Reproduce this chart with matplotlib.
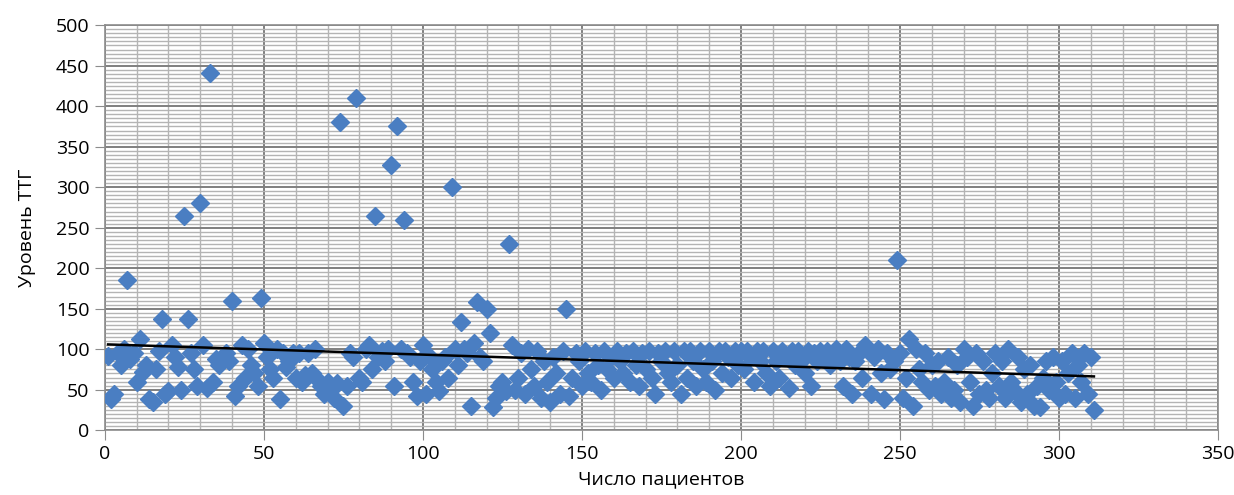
import matplotlib
matplotlib.use('Agg')
import matplotlib.pyplot as plt
from matplotlib.ticker import MultipleLocator
import numpy as np

plt.rcParams['font.family'] = ['Open Sans', 'DejaVu Sans']

# TSH level per patient (patients numbered 1..311)
tsh = [
    92, 38, 45, 95, 80, 100, 185, 88, 95, 60,
    112, 72, 80, 38, 35, 75, 98, 137, 45, 48,
    105, 90, 78, 50, 265, 137, 95, 75, 55, 280,
    105, 52, 441, 60, 88, 80, 90, 95, 85, 160,
    42, 55, 105, 65, 100, 80, 70, 55, 163, 108,
    90, 75, 65, 100, 38, 95, 78, 85, 95, 65,
    95, 60, 68, 95, 70, 100, 62, 55, 45, 60,
    50, 40, 58, 380, 30, 55, 95, 90, 410, 65,
    60, 100, 105, 75, 265, 90, 98, 85, 100, 328,
    55, 375, 100, 260, 95, 90, 60, 42, 85, 105,
    45, 92, 75, 60, 48, 85, 90, 65, 300, 100,
    80, 133, 100, 95, 30, 108, 158, 90, 85, 150,
    120, 28, 40, 55, 60, 48, 230, 105, 50, 65,
    95, 45, 100, 75, 55, 98, 40, 85, 60, 35,
    90, 70, 45, 98, 150, 42, 65, 95, 85, 55,
    98, 70, 60, 95, 80, 50, 98, 75, 90, 65,
    98, 85, 70, 95, 60, 98, 80, 55, 95, 75,
    98, 65, 45, 95, 85, 98, 70, 60, 98, 80,
    45, 98, 65, 98, 85, 55, 98, 75, 60, 98,
    85, 50, 98, 70, 98, 90, 65, 98, 80, 98,
    75, 98, 90, 60, 98, 85, 98, 70, 55, 98,
    85, 65, 98, 90, 52, 98, 80, 98, 85, 70,
    98, 55, 95, 85, 98, 90, 98, 80, 95, 100,
    85, 55, 100, 90, 45, 85, 95, 65, 105, 100,
    45, 90, 100, 70, 38, 95, 75, 85, 210, 95,
    40, 65, 112, 30, 100, 75, 60, 95, 50, 80,
    55, 85, 45, 60, 90, 40, 50, 80, 35, 100,
    90, 60, 30, 95, 45, 85, 50, 40, 70, 95,
    55, 85, 40, 100, 60, 50, 90, 35, 75, 45,
    80, 30, 55, 28, 65, 85, 50, 90, 60, 40,
    85, 45, 70, 95, 40, 80, 60, 95, 45, 90, 25,
]
patients = np.arange(1, len(tsh) + 1)

fig = plt.figure(figsize=(12.34, 4.95), dpi=100)
ax = fig.add_axes([0.085, 0.131, 0.902, 0.818])

ax.plot(patients, tsh, linestyle='none', marker='D', markersize=9,
        color='#4a7ec2', markeredgecolor='#4a7ec2', zorder=3)

# linear trend line
k, b = np.polyfit(patients, tsh, 1)
ax.plot(patients, k * patients + b, color='black', lw=1.8, zorder=4)

ax.set_xlim(0, 350)
ax.set_ylim(0, 500)
ax.xaxis.set_major_locator(MultipleLocator(50))
ax.xaxis.set_minor_locator(MultipleLocator(10))
ax.yaxis.set_major_locator(MultipleLocator(50))
ax.yaxis.set_minor_locator(MultipleLocator(5))

ax.grid(which='major', color='#7f7f7f', lw=1.4, zorder=1)
ax.grid(which='minor', color='#b4b4b4', lw=1.0, zorder=0)
ax.set_axisbelow(True)

for s in ax.spines.values():
    s.set_color('#8c8c8c')
    s.set_linewidth(1.2)

ax.tick_params(which='major', length=7, color='#8c8c8c', labelsize=14, pad=4)
ax.tick_params(which='minor', length=0)

ax.set_xlabel('Число пациентов', fontsize=14, labelpad=5)
ax.set_ylabel('Уровень ТТГ', fontsize=14, labelpad=14)

fig.savefig('out.png', dpi=100)
